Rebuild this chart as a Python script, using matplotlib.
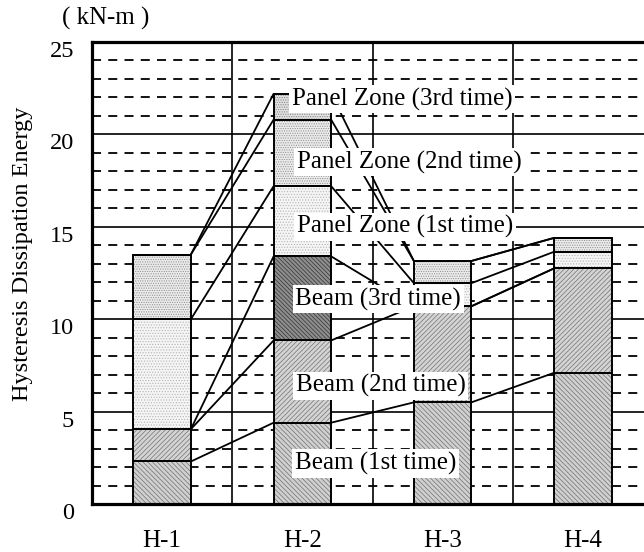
import matplotlib
matplotlib.use('Agg')
import matplotlib.pyplot as plt
import numpy as np
from matplotlib import transforms

plt.rcParams['font.family'] = ['Liberation Serif', 'DejaVu Serif']
plt.rcParams['hatch.linewidth'] = 0.5

# ---- data (kN-m) ----
categories = ['H-1', 'H-2', 'H-3', 'H-4']
beam1 = [2.3, 4.4, 5.5, 7.1]
beam2 = [1.75, 4.45, 5.2, 5.65]
beam3 = [0.0, 4.55, 0.0, 0.0]
pz1 = [5.95, 3.8, 1.25, 0.9]
pz2 = [3.5, 3.6, 1.2, 0.75]
pz3 = [0.0, 1.4, 0.0, 0.0]
series_names = ['Beam (1st time)', 'Beam (2nd time)', 'Beam (3rd time)',
                'Panel Zone (1st time)', 'Panel Zone (2nd time)', 'Panel Zone (3rd time)']
y_ticks = [0, 5, 10, 15, 20, 25]

# ---- styles ----
styles = [
    dict(face='#d0d0d0', hc='#707070', hatch='\\' * 7),
    dict(face='#d4d4d4', hc='#727272', hatch='/' * 7),
    dict(face='#8e8e8e', hc='#333333', hatch='\\' * 8),
    dict(face='#f5f5f5', hc='#b4b4b4', hatch='.' * 6),
    dict(face='#ebebeb', hc='#8e8e8e', hatch='.' * 7),
    dict(face='#e0e0e0', hc='#848484', hatch='.' * 7),
]
label_pos = [(1.947, 2.19), (1.954, 6.4), (1.950, 11.08),
             (1.961, 15.0), (1.961, 18.5), (1.926, 21.9)]

fig = plt.figure(figsize=(6.44, 5.52), dpi=100)
ax = fig.add_axes([92 / 644, 48 / 552, 561 / 644, 462 / 552])

x = np.arange(1, len(categories) + 1)
w = 0.41
series = [beam1, beam2, beam3, pz1, pz2, pz3]
bottom = np.zeros(len(categories))
tops = []
for vals, st in zip(series, styles):
    vals = np.array(vals, dtype=float)
    ax.bar(x, vals, w, bottom=bottom, color=st['face'], edgecolor=st['hc'],
           hatch=st['hatch'], lw=0, zorder=2)
    ax.bar(x, vals, w, bottom=bottom, fill=False, edgecolor='black', lw=1.4, zorder=3)
    bottom = bottom + vals
    tops.append(bottom.copy())

for t in tops:
    for i in range(len(categories) - 1):
        ax.plot([x[i] + w / 2, x[i + 1] - w / 2], [t[i], t[i + 1]],
                color='black', lw=1.3, zorder=4, solid_capstyle='butt')

for name, (lx, ly) in zip(series_names, label_pos):
    ax.text(lx, ly, name, ha='left', va='center', fontsize=18, zorder=6,
            bbox=dict(boxstyle='square,pad=0.1', fc='white', ec='none'))

ax.set_xlim(0.5, 4.5)
ax.set_ylim(0, 25)
ax.set_yticks(y_ticks)
ax.set_yticks([v for v in range(1, 25) if v % 5], minor=True)
ax.set_xticks(x)
ax.set_xticklabels(categories)
ax.set_xticks([1.5, 2.5, 3.5], minor=True)
ax.set_axisbelow(True)
ax.grid(which='major', axis='y', color='black', lw=1.2, ls='-')
ax.grid(which='minor', axis='y', color='black', lw=1.3, ls=(0, (5, 4)))
ax.grid(which='minor', axis='x', color='black', lw=1.2, ls='-')

ax.tick_params(axis='both', which='both', length=0)
ax.tick_params(axis='y', labelsize=17.5, pad=13)
ax.tick_params(axis='x', labelsize=18, pad=19)
off = transforms.ScaledTranslation(0, -7 / 100, fig.dpi_scale_trans)
for lab in ax.get_yticklabels():
    lab.set_transform(lab.get_transform() + off)

for sp in ['left', 'bottom', 'top', 'right']:
    ax.spines[sp].set_linewidth(2.3)
    ax.spines[sp].set_color('black')

fig.text(23 / 644, 1 - 254 / 552, 'Hysteresis Dissipation Energy', rotation=90,
         ha='center', va='center', fontsize=17.5)
fig.text(105.5 / 644, 1 - 18 / 552, '( kN-m )', ha='center', va='center', fontsize=18)

fig.savefig('out.png', dpi=100)
